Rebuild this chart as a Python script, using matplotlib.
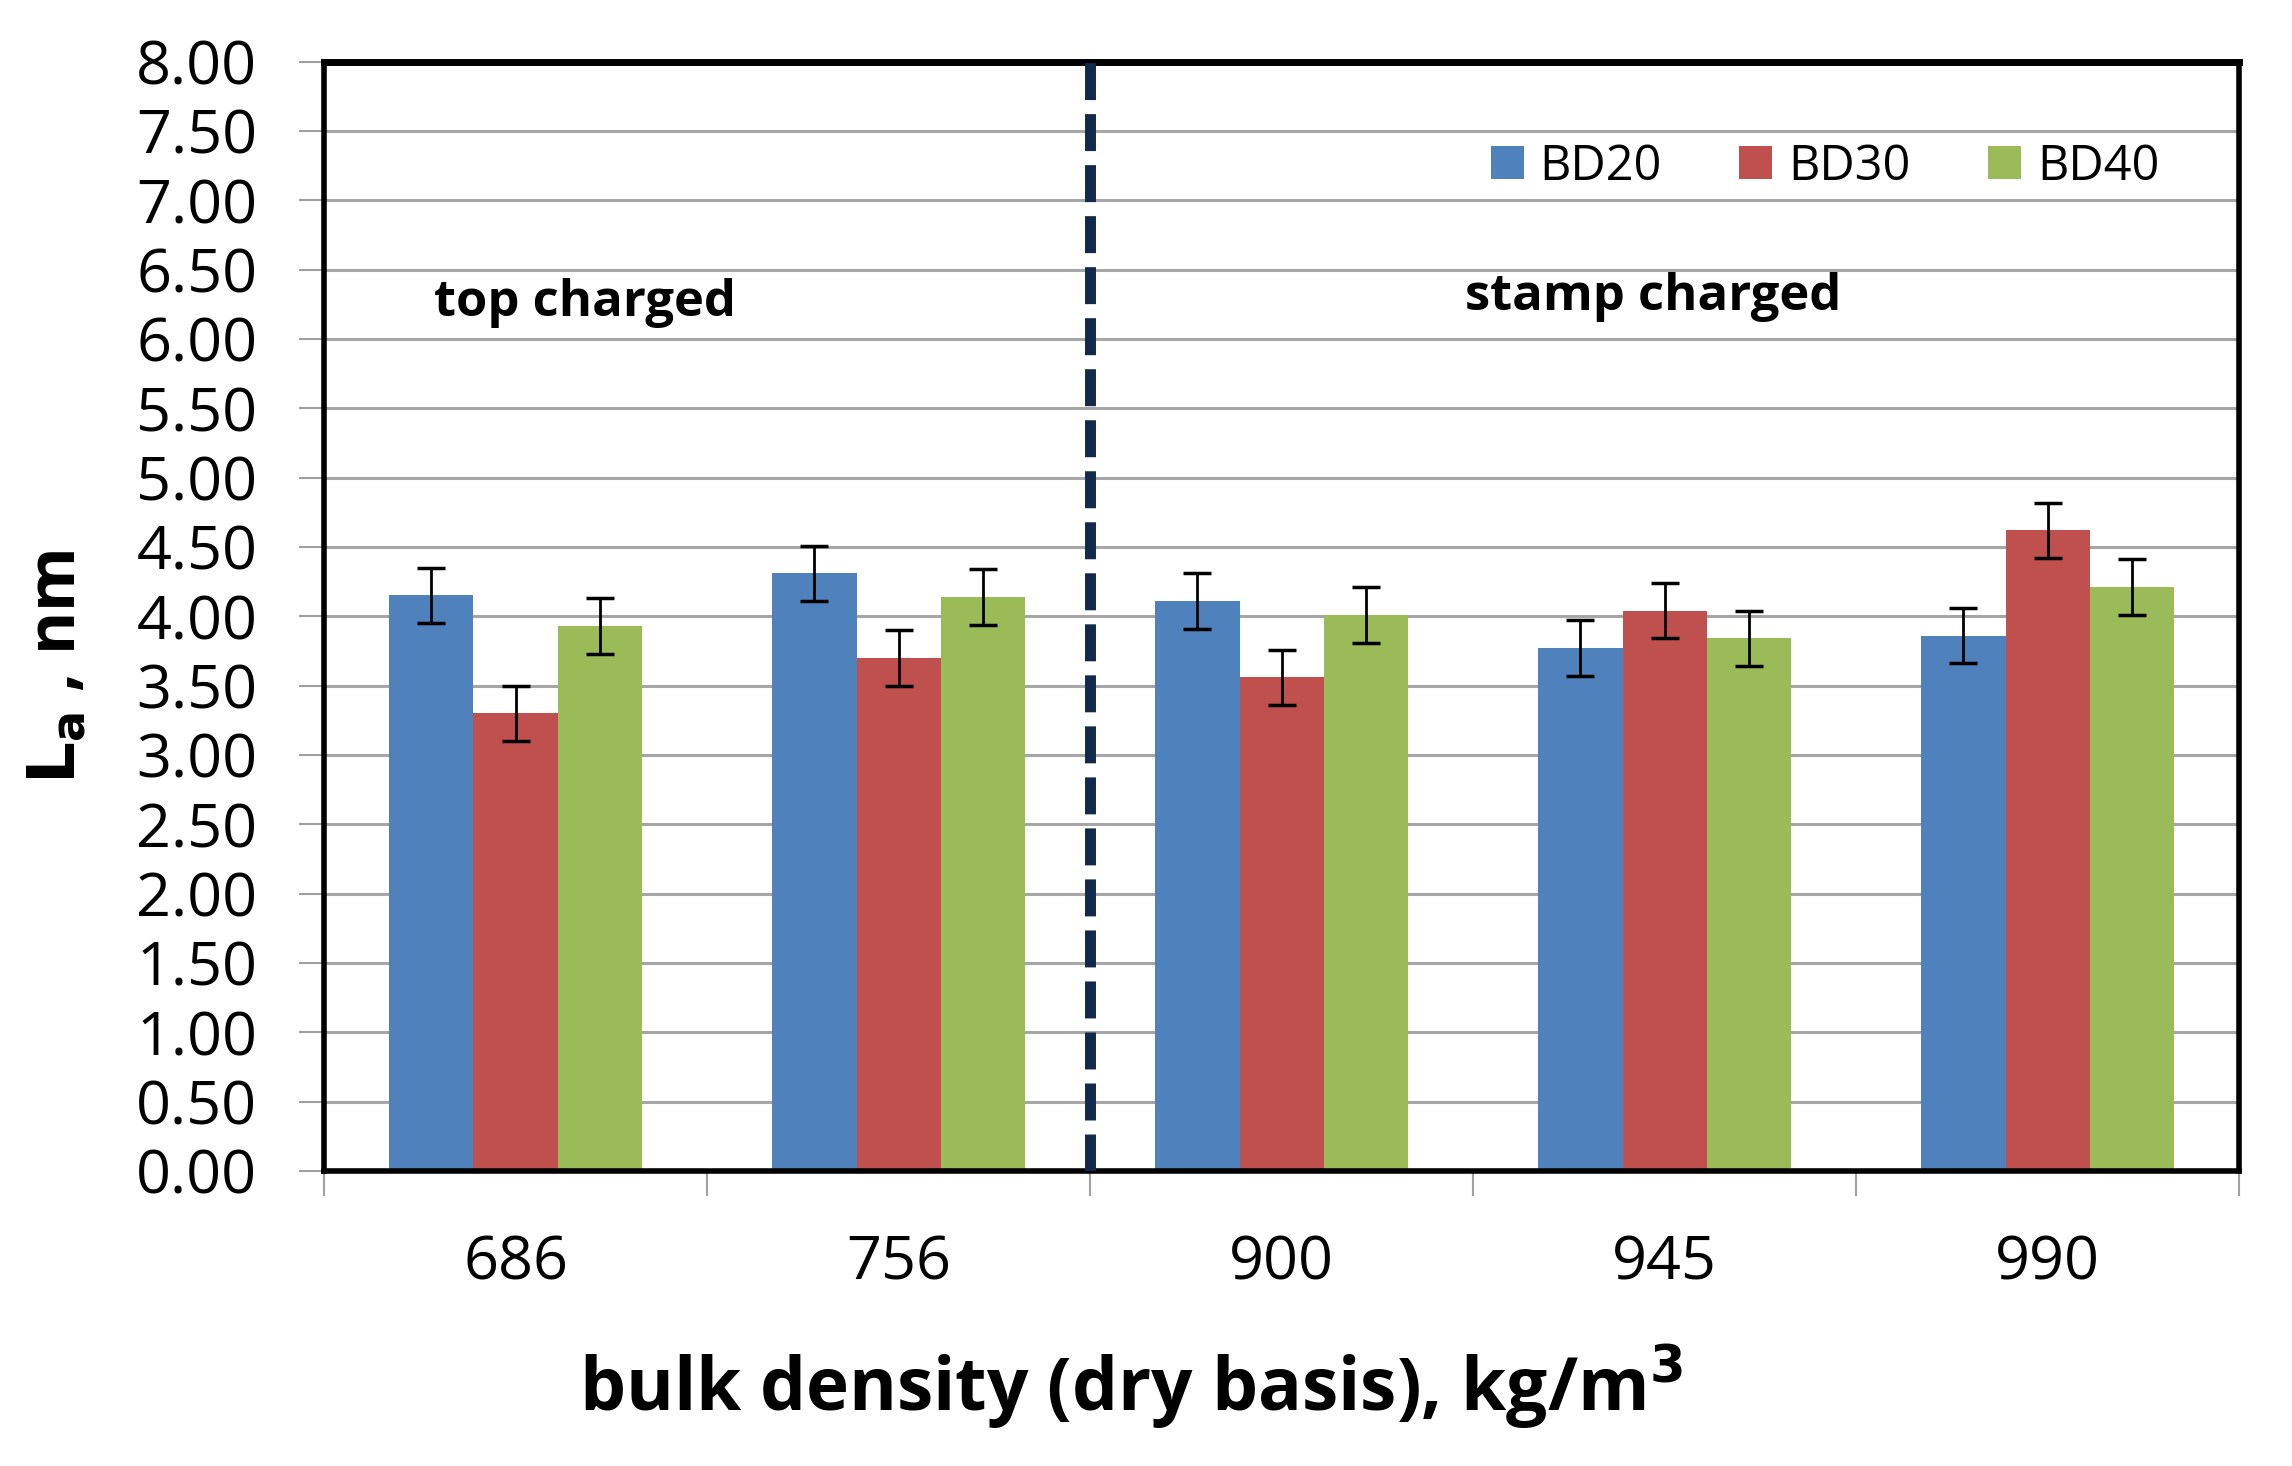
import matplotlib
matplotlib.use("Agg")
import matplotlib.pyplot as plt
import numpy as np

categories = ["686", "756", "900", "945", "990"]
series = ["BD20", "BD30", "BD40"]
bd20 = [4.15, 4.31, 4.11, 3.77, 3.86]
bd30 = [3.30, 3.70, 3.56, 4.04, 4.62]
bd40 = [3.93, 4.14, 4.01, 3.84, 4.21]
err20 = [0.2, 0.2, 0.2, 0.2, 0.2]
err30 = [0.2, 0.2, 0.2, 0.2, 0.2]
err40 = [0.2, 0.2, 0.2, 0.2, 0.2]
yticks = [i * 0.5 for i in range(17)]
colors = ["#4F81BD", "#C0504D", "#9BBB59"]

plt.rcParams['font.family'] = ['Open Sans', 'DejaVu Sans']

fig = plt.figure(figsize=(22.92, 14.66), dpi=100)
ax = fig.add_axes([0.1414, 0.2013, 0.977 - 0.1414, 0.958 - 0.2013])

x = np.arange(len(categories))
w = 0.22
vals = [bd20, bd30, bd40]
errs = [err20, err30, err40]
for i, (v, e, c, name) in enumerate(zip(vals, errs, colors, series)):
    ax.bar(x + (i - 1) * w, v, width=w, color=c, label=name, zorder=3,
           yerr=e, error_kw=dict(ecolor='black', elinewidth=2, capsize=10, capthick=2.5, zorder=4))

ax.set_xlim(-0.5, len(categories) - 0.5)
ax.set_ylim(0, 8)
ax.set_yticks(yticks)
ax.set_yticklabels([f"{t:.2f}" for t in yticks], fontsize=44)
ax.yaxis.grid(True, color='#A6A6A6', linewidth=2.2, zorder=0)
ax.set_axisbelow(True)
ax.tick_params(axis='y', direction='out', length=18, width=1.5, color='#A0A0A0', pad=30)

ax.set_xticks(x)
ax.set_xticklabels(categories, fontsize=44)
ax.set_xticks(np.arange(-0.5, len(categories)), minor=True)
ax.tick_params(axis='x', which='major', length=0, pad=45)
ax.tick_params(axis='x', which='minor', direction='out', length=18, width=1.5, color='#A0A0A0')

for s in ax.spines.values():
    s.set_linewidth(4)
    s.set_color('black')
    s.set_zorder(5)
ax.spines['top'].set_linewidth(5)

ax.axvline(1.5, color='#13294B', linewidth=7.9, linestyle=(0, (3.37, 1.28)), zorder=6)

ax.text(0.18, 6.26, "top charged", fontsize=36.5, fontweight='bold', ha='center', va='center')
ax.text(2.97, 6.30, "stamp charged", fontsize=36.5, fontweight='bold', ha='center', va='center')

ax.legend(loc='center right', bbox_to_anchor=(0.981, 0.905), ncol=3, frameon=False,
          fontsize=35, handlelength=0.68, handleheight=0.68, handletextpad=0.32,
          columnspacing=1.6)

fig.text(0.0255, 1 - 667 / 1466, r"$\mathbf{L_a}$ , nm", fontsize=47.5, fontweight='bold',
         rotation=90, ha='center', va='center')
fig.text(0.4935, 0.054, r"bulk density (dry basis), kg/m$\mathbf{^3}$", fontsize=52.5,
         fontweight='bold', ha='center', va='center')

fig.savefig("out.png", dpi=100)
